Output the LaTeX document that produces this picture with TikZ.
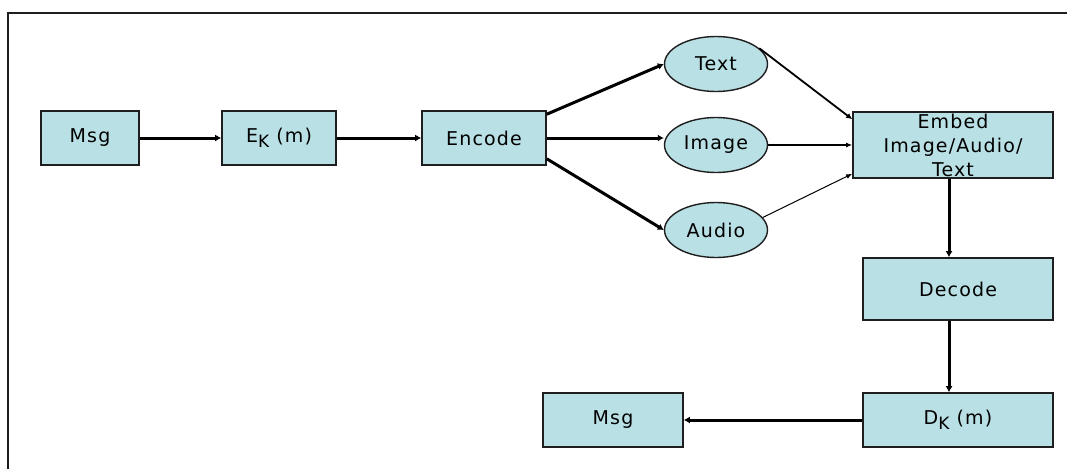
\documentclass[tikz,border=0pt]{standalone}
\usepackage{fontspec}
\setmainfont{DejaVu Sans}[LetterSpace=6]
\usetikzlibrary{arrows.meta,shapes.geometric}
\definecolor{boxfill}{RGB}{185,224,228}
\definecolor{edge}{RGB}{30,30,30}
\tikzset{
  blk/.style={draw=edge, line width=1.6pt, fill=boxfill, inner sep=0pt,
    font=\fontsize{19}{23}\selectfont, align=center},
  oval/.style={ellipse, draw=edge, line width=1.4pt, fill=boxfill, inner sep=0pt,
    minimum width=103pt, minimum height=55pt, font=\fontsize{19}{23}\selectfont},
  flow/.style={draw=black, line width=3pt, -{Latex[length=6pt,width=7pt]}},
  thinflow/.style={draw=black, line width=1.3pt, -{Latex[length=6pt,width=5pt]}},
  frameline/.style={draw=edge, line width=1.6pt}
}
\newcommand{\subK}{\raisebox{-5pt}{\fontsize{17}{17}\selectfont K}}
\begin{document}
\begin{tikzpicture}[x=1pt,y=-1pt]
\useasboundingbox (0,0) rectangle (1067,469);
% page frame: top and left edges only
\draw[frameline] (8,469) -- (8,13) -- (1067,13);

% top row
\node[blk, minimum width=98pt, minimum height=54pt]  (msgA)  at (90,138)  {Msg};
\node[blk, minimum width=114pt, minimum height=54pt] (ek)    at (279,138) {E\subK\ (m)};
\node[blk, minimum width=124pt, minimum height=54pt] (enc)   at (484,138) {Encode};

% carrier media
\node[oval] (txt) at (716,64)  {Text};
\node[oval] (img) at (716,145) {Image};
\node[oval] (aud) at (716,230) {Audio};

% right column
\node[blk, minimum width=200pt, minimum height=66pt] (emb) at (953,145) {Embed\\[1pt]Image/Audio/\\[1pt]Text};
\node[blk, minimum width=190pt, minimum height=62pt] (dec) at (958,289) {Decode};
\node[blk, minimum width=190pt, minimum height=54pt] (dk)  at (958,420) {D\subK\ (m)};
\node[blk, minimum width=140pt, minimum height=54pt] (msgB) at (613,420) {Msg};

% connectors
\draw[flow] (msgA.east) -- (ek.west);
\draw[flow] (ek.east) -- (enc.west);
\draw[flow] ([yshift=-4pt]enc.north east) -- (txt.west);
\draw[flow] (enc.east) -- (img.west |- enc.east);
\draw[flow] ([yshift=7pt]enc.south east) -- (aud.180);
\draw[line width=1.8pt, -{Latex[length=6pt,width=6pt]}] (txt.20) -- ([yshift=-8pt]emb.north west);
\draw[thinflow] (img.east) -- (emb.west |- img.east);
\draw[line width=1pt, -{Latex[length=6pt,width=5pt]}] (aud.15) -- ([yshift=5pt]emb.south west);
\draw[flow] ([xshift=-4pt]emb.south) -- ([xshift=-4pt]emb.south |- dec.north);
\draw[flow] ([xshift=-9pt]dec.south) -- ([xshift=-9pt]dec.south |- dk.north);
\draw[flow] (dk.west) -- (msgB.east);
\end{tikzpicture}
\end{document}
